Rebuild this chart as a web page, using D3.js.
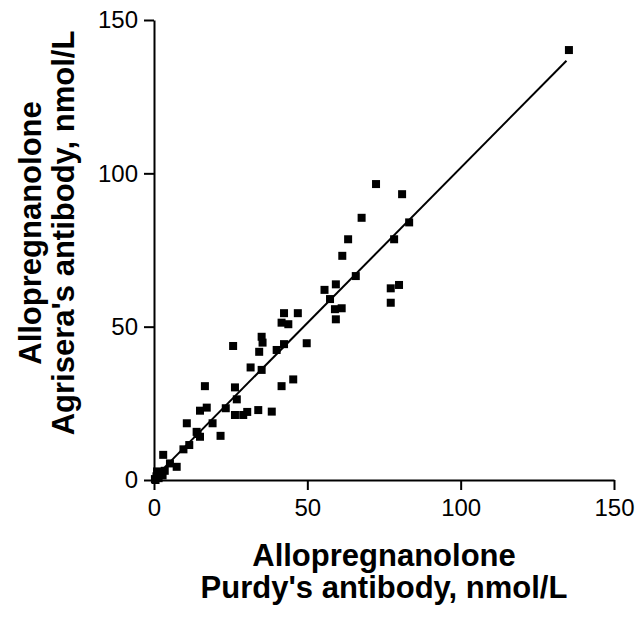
<!DOCTYPE html>
<html lang="en">
<head>
    <meta charset="UTF-8">
    <title>Allopregnanolone antibody comparison</title>
    <script src="https://d3js.org/d3.v7.min.js"></script>
    <style>
        body {
            margin: 0;
            background: #fff;
        }
        svg {
            font-family: "Liberation Sans", Arial, Helvetica, sans-serif;
        }
        .axis path, .axis line {
            stroke: #000;
            stroke-width: 2px;
        }
        .axis text {
            font-size: 24px;
            fill: #000;
        }
        .title {
            font-size: 31px;
            font-weight: bold;
            fill: #000;
        }
    </style>
</head>
<body>
    <script>
        // Purdy's antibody (x) vs Agrisera's antibody (y), nmol/L
        const purdy = [
            135.3, 72.4, 80.9, 67.7, 83.2, 63.3, 78.3, 61.4, 65.8, 55.6,
            59.3, 57.4, 77.2, 79.9, 77.2, 59.0, 61.2, 59.3, 42.4, 46.9,
            41.6, 43.8, 35.1, 35.4, 34.3, 40.0, 42.4, 49.8, 31.5, 35.1,
            45.4, 41.6, 25.8, 16.6, 26.4, 27.0, 17.2, 15.0, 23.4, 26.4,
            29.1, 30.4, 34.0, 38.4, 10.7, 19.1, 13.9, 15.0, 21.7, 11.5,
            9.6, 3.0, 7.4, 5.2, 14.2, 0.3, 0.8, 1.5, 2.0, 2.8,
            1.0, 3.5, 0.5
        ];
        const agrisera = [
            140.2, 96.5, 93.2, 85.5, 84.0, 78.5, 78.5, 73.1, 66.5, 62.0,
            63.8, 59.0, 62.5, 63.6, 57.8, 55.7, 56.0, 52.4, 54.4, 54.4,
            51.3, 50.8, 46.7, 44.8, 41.8, 42.4, 44.3, 44.6, 36.7, 35.9,
            32.8, 30.6, 43.7, 30.6, 30.2, 26.3, 23.6, 22.6, 23.4, 21.2,
            21.2, 22.2, 22.8, 22.3, 18.5, 18.5, 15.7, 14.1, 14.4, 11.4,
            10.0, 8.2, 4.3, 5.4, 15.0, 0.3, 1.2, 0.6, 2.2, 1.5,
            2.8, 3.0, 0.0
        ];
        const tickValues = [0, 50, 100, 150];
        const fitSlope = 1.012;
        const fitIntercept = 0.6;

        const width = 643, height = 617;

        const svg = d3.select("body")
            .append("svg")
            .attr("width", width)
            .attr("height", height);

        const x = d3.scaleLinear().domain([0, 150]).range([154, 614]);
        const y = d3.scaleLinear().domain([0, 150]).range([480, 20]);

        // axes
        svg.append("g")
            .attr("class", "axis")
            .attr("transform", `translate(0,${y(0)})`)
            .call(d3.axisBottom(x).tickValues(tickValues).tickSize(10).tickSizeOuter(0).tickPadding(8))
            .call(g => g.selectAll("text").attr("dy", "0.75em"));

        svg.append("g")
            .attr("class", "axis")
            .attr("transform", `translate(${x(0)},0)`)
            .call(d3.axisLeft(y).tickValues(tickValues).tickSize(10).tickSizeOuter(0).tickPadding(6));

        svg.selectAll(".axis text").attr("font-family", null);

        // regression line over the data range
        const xr = d3.extent(purdy);
        svg.append("line")
            .attr("x1", x(0))
            .attr("y1", y(fitIntercept))
            .attr("x2", x(xr[1] - 0.8))
            .attr("y2", y(fitIntercept + fitSlope * (xr[1] - 0.8)))
            .attr("stroke", "#000")
            .attr("stroke-width", 2);

        // points
        const s = 8;
        svg.selectAll("rect.pt")
            .data(purdy.map((d, i) => [d, agrisera[i]]))
            .join("rect")
            .attr("class", "pt")
            .attr("x", d => x(d[0]) - s / 2)
            .attr("y", d => y(d[1]) - s / 2)
            .attr("width", s)
            .attr("height", s)
            .attr("fill", "#000");

        // axis titles
        const xt = svg.append("text")
            .attr("class", "title")
            .attr("text-anchor", "middle");
        xt.append("tspan").attr("x", 384).attr("y", 566).text("Allopregnanolone");
        xt.append("tspan").attr("x", 384).attr("y", 598).text("Purdy's antibody, nmol/L");

        const yt = svg.append("text")
            .attr("class", "title")
            .attr("text-anchor", "middle")
            .attr("transform", "rotate(-90)");
        yt.append("tspan").attr("x", -233).attr("y", 41).text("Allopregnanolone");
        yt.append("tspan").attr("x", -233).attr("y", 74).text("Agrisera's antibody, nmol/L");
    </script>
</body>
</html>
